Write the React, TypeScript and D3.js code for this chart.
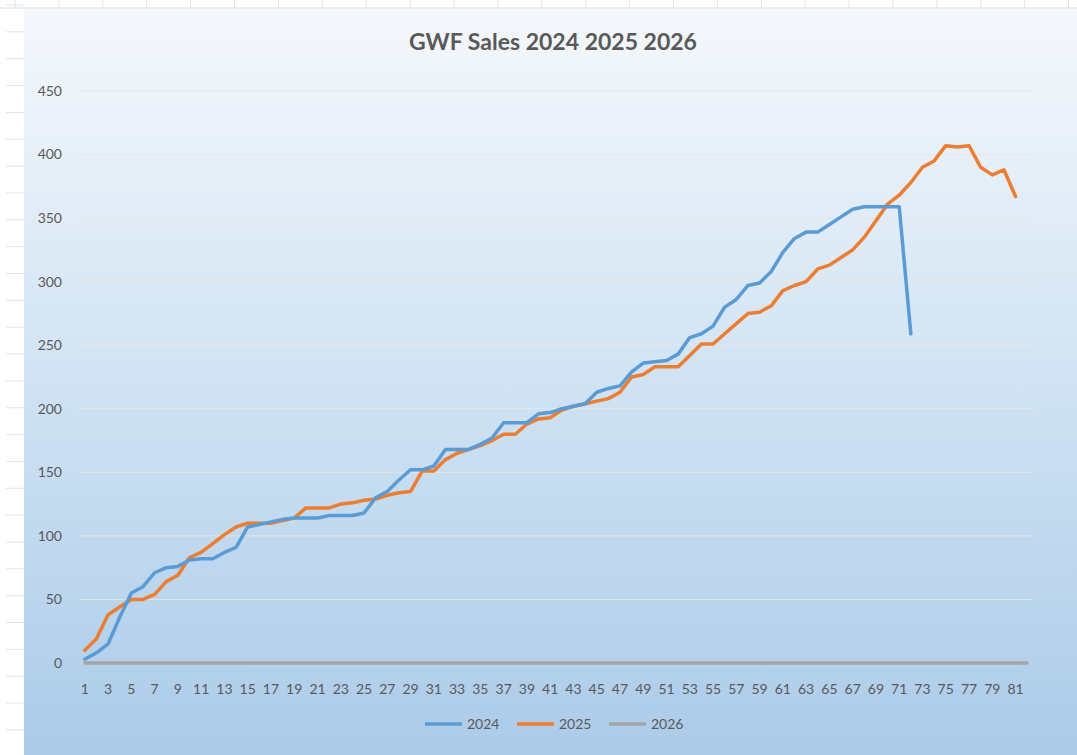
import React from 'react';
import * as d3 from 'd3';

const categories = d3.range(1, 83).map(String);
const sales2024 = [
  3, 8, 15, 36, 55, 60, 71, 75, 76, 81, 82, 82, 87, 91, 107, 109, 111, 113, 114, 114,
  114, 116, 116, 116, 118, 130, 135, 144, 152, 152, 155, 168, 168, 168, 172, 177, 189, 189, 189, 196,
  197, 200, 202, 204, 213, 216, 218, 229, 236, 237, 238, 243, 256, 259, 265, 280, 286, 297, 299, 308,
  323, 334, 339, 339, 345, 351, 357, 359, 359, 359, 359, 259,
];
const sales2025 = [
  10, 19, 38, 44, 50, 50, 54, 64, 69, 83, 87, 94, 101, 107, 110, 110, 110, 112, 114, 122,
  122, 122, 125, 126, 128, 129, 132, 134, 135, 151, 151, 160, 165, 168, 171, 175, 180, 180, 188, 192,
  193, 199, 202, 204, 206, 208, 213, 225, 227, 233, 233, 233, 242, 251, 251, 259, 267, 275, 276, 281,
  293, 297, 300, 310, 313, 319, 325, 335, 348, 361, 368, 378, 390, 395, 407, 406, 407, 390, 384, 388,
  367,
];
const sales2026 = categories.map(() => 0);
const yTicks = [0, 50, 100, 150, 200, 250, 300, 350, 400, 450];
const xLabels = categories.filter((c) => +c % 2 === 1);

const series = [
  { name: '2024', values: sales2024, color: '#5b9bd5' },
  { name: '2025', values: sales2025, color: '#ed7d31' },
  { name: '2026', values: sales2026, color: '#a5a5a5' },
];

const W = 1077;
const H = 755;
const font = 'Lato, "Open Sans", sans-serif';

export default function App() {
  const x = d3.scaleBand().domain(categories).range([79, 1033]);
  const y = d3.scaleLinear().domain([0, 450]).range([663, 91]);
  const cx = (i: number) => (x(categories[i]) ?? 0) + x.bandwidth() / 2;

  const line = d3
    .line<number>()
    .x((_, i) => cx(i))
    .y((d) => y(d));

  // spreadsheet grid peeking out around the chart
  const rowLines = d3.range(5, H, 26.85);
  const colTicks = d3.range(15, W, 43.9);

  return (
    <div style={{ position: 'absolute', left: 0, top: 0 }}>
      <svg width={W} height={H} style={{ display: 'block' }}>
        <defs>
          <linearGradient id="bg" x1="0" y1="0" x2="0" y2="1">
            <stop offset="0%" stopColor="#f5f8fc" />
            <stop offset="45%" stopColor="#d4e5f4" />
            <stop offset="100%" stopColor="#abcbe9" />
          </linearGradient>
        </defs>
        <rect width={W} height={H} fill="#ffffff" />
        {rowLines.map((ry) => (
          <line key={ry} x1={6} x2={24} y1={ry} y2={ry} stroke="#e3e3e3" />
        ))}
        {colTicks.map((tx) => (
          <line key={tx} x1={tx} x2={tx} y1={0} y2={8} stroke="#e3e3e3" />
        ))}
        <line x1={0} x2={W} y1={8} y2={8} stroke="#dcdcdc" />
        <rect x={24} y={9} width={W - 24} height={H - 9} fill="url(#bg)" />

        <text x={553} y={50} textAnchor="middle" fontFamily={font} fontSize={23} fontWeight={700} fill="#595959">
          GWF Sales 2024 2025 2026
        </text>

        {yTicks.map((t) => (
          <g key={t}>
            {t > 0 && <line x1={79} x2={1033} y1={y(t)} y2={y(t)} stroke="#e6e6e6" strokeOpacity={0.9} />}
            <text x={62} y={y(t)} dy="0.35em" textAnchor="end" fontFamily={font} fontSize={14} fill="#595959">
              {t}
            </text>
          </g>
        ))}
        <line x1={79} x2={1033} y1={y(0)} y2={y(0)} stroke="#d9d9d9" />

        {xLabels.map((c) => (
          <text key={c} x={(x(c) ?? 0) + x.bandwidth() / 2} y={694} textAnchor="middle" fontFamily={font} fontSize={14} fill="#595959">
            {c}
          </text>
        ))}

        {series
          .slice()
          .reverse()
          .map((s) => (
            <path key={s.name} d={line(s.values) ?? ''} fill="none" stroke={s.color} strokeWidth={3.5} strokeLinejoin="round" strokeLinecap="round" />
          ))}

        {series.map((s, i) => {
          const lx = 425 + i * 92;
          return (
            <g key={s.name}>
              <line x1={lx} x2={lx + 37} y1={724} y2={724} stroke={s.color} strokeWidth={3.5} />
              <text x={lx + 42} y={724} dy="0.35em" fontFamily={font} fontSize={14} fill="#595959">
                {s.name}
              </text>
            </g>
          );
        })}
      </svg>
    </div>
  );
}
